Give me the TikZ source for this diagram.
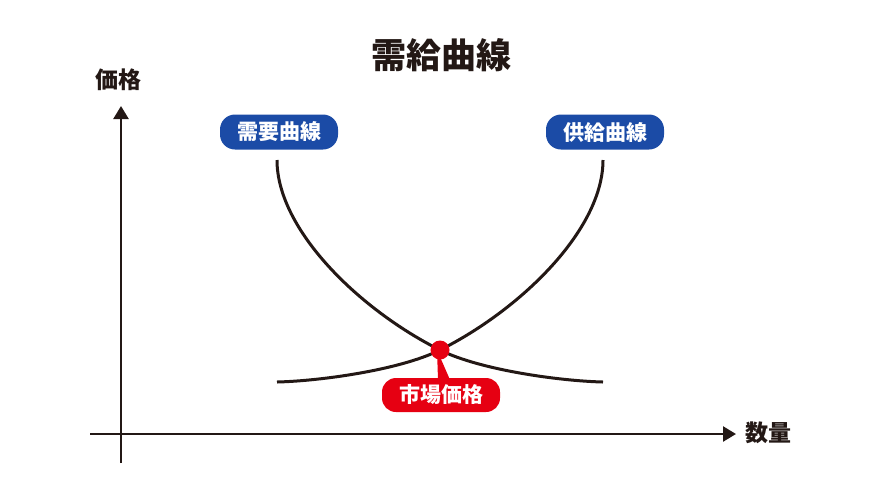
\documentclass[tikz,border=0pt]{standalone}
\usepackage{fontspec}
\setmainfont{Noto Sans CJK JP}
\usetikzlibrary{arrows.meta}
\definecolor{ink}{HTML}{231815}
\definecolor{bluebox}{HTML}{1B4BA6}
\definecolor{redbox}{HTML}{E60012}
\tikzset{
  axis/.style={draw=ink, line width=2.5pt, -{Triangle[length=13pt,width=15pt]}},
  curve/.style={draw=ink, line width=3pt},
  pill/.style={fill=bluebox, text=white, rounded corners=15pt, minimum width=118pt, minimum height=35pt, inner sep=0pt, font=\bfseries\fontsize{21}{21}\selectfont},
  redpill/.style={pill, fill=redbox, minimum height=34pt, rounded corners=14pt},
  axlabel/.style={text=ink, font=\bfseries\fontsize{23}{23}\selectfont, inner sep=0pt},
}
\begin{document}
\begin{tikzpicture}[x=1pt, y=-1pt]
\useasboundingbox (0,0) rectangle (885,491);
% title
\node[text=ink, font=\bfseries\fontsize{35}{35}\selectfont, inner sep=0pt] (title) at (441,55) {需給曲線};
% axes
\coordinate (ybot) at (121,463);
\coordinate (ytop) at (121,106);
\coordinate (xleft) at (90,434);
\coordinate (xright) at (736,434);
\draw[axis] (ybot) -- (ytop);
\draw[axis] (xleft) -- (xright);
\node[axlabel] (ylab) at (118,80) {価格};
\node[axlabel] (xlab) at (768,433) {数量};
% curves
\coordinate (dA) at (277,160);
\coordinate (eq) at (440,350);
\coordinate (dB) at (603,382);
\coordinate (sA) at (603,160);
\coordinate (sB) at (277,382);
\draw[curve] (dA) .. controls (277,230) and (360,310) .. (eq)
                  .. controls (480,370) and (560,381) .. (dB);
\draw[curve] (sA) .. controls (603,230) and (520,310) .. (eq)
                  .. controls (400,370) and (320,381) .. (sB);
% labels
\node[pill] (dem) at (279,132) {需要曲線};
\node[pill] (sup) at (605,132) {供給曲線};
\node[redpill] (mkt) at (441,395) {市場価格};
\fill[redbox] ([xshift=-3pt,yshift=-2pt]mkt.north) -- ([xshift=-3pt]eq) -- ([xshift=9pt,yshift=-2pt]mkt.north) -- cycle;
\node[circle, fill=redbox, minimum size=19pt, inner sep=0pt] (dot) at (eq) {};
\end{tikzpicture}
\end{document}
